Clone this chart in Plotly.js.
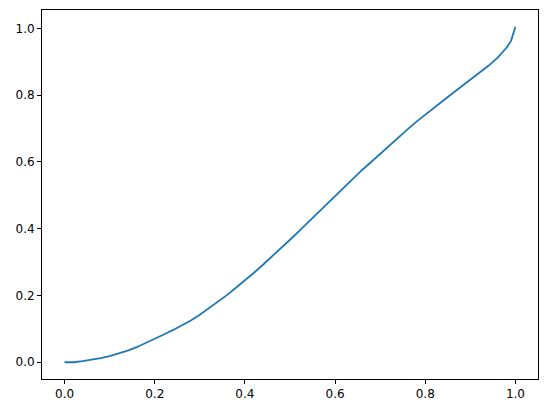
<!DOCTYPE html>
<html>
<head>
<meta charset="utf-8">
<script src="https://cdn.plot.ly/plotly-3.0.1.min.js"></script>
<style>
  html, body { margin: 0; padding: 0; background: #fff; }
  #plot { width: 547px; height: 413px; }
</style>
</head>
<body>
<div id="plot"></div>
<script>
// curve
var xs = [0, 0.02, 0.04, 0.06, 0.08, 0.1, 0.12, 0.14, 0.16, 0.18, 0.2, 0.22, 0.24, 0.26, 0.28,
          0.3, 0.32, 0.34, 0.36, 0.38, 0.4, 0.42, 0.44, 0.46, 0.48, 0.5, 0.52, 0.54, 0.56, 0.58,
          0.6, 0.62, 0.64, 0.66, 0.68, 0.7, 0.72, 0.74, 0.76, 0.78, 0.8, 0.82, 0.84, 0.86, 0.88,
          0.9, 0.92, 0.94, 0.96, 0.98, 0.99, 1.0];
var ys = [0, 0.0, 0.003, 0.007, 0.012, 0.018, 0.026, 0.035, 0.045, 0.057, 0.07, 0.083, 0.096, 0.11, 0.125,
          0.142, 0.161, 0.181, 0.201, 0.223, 0.245, 0.268, 0.292, 0.316, 0.341, 0.367, 0.393, 0.419, 0.446, 0.473,
          0.5, 0.526, 0.551, 0.576, 0.6, 0.625, 0.649, 0.673, 0.697, 0.72, 0.742, 0.763, 0.784, 0.805, 0.826,
          0.846, 0.866, 0.888, 0.912, 0.942, 0.962, 1.005];
var xTicks = [0, 0.2, 0.4, 0.6, 0.8, 1.0];
var yTicks = [0, 0.2, 0.4, 0.6, 0.8, 1.0];

var trace = {
  x: xs,
  y: ys,
  type: 'scatter',
  mode: 'lines',
  line: {color: '#1f77b4', width: 1.8},
  hoverinfo: 'skip'
};

var ax = {
  showline: true, mirror: true, linecolor: '#000', linewidth: 1,
  ticks: 'outside', ticklen: 4, tickwidth: 1, tickcolor: '#000',
  showgrid: false, zeroline: false,
  tickformat: '.1f',
  tickfont: {family: 'DejaVu Sans', size: 12, color: '#000'}
};

var layout = {
  width: 547, height: 413,
  margin: {l: 42, r: 9, t: 10, b: 34},
  paper_bgcolor: '#fff', plot_bgcolor: '#fff',
  showlegend: false,
  xaxis: Object.assign({}, ax, {range: [-0.05, 1.05], tickvals: xTicks}),
  yaxis: Object.assign({}, ax, {range: [-0.05025, 1.05525], tickvals: yTicks})
};

Plotly.newPlot('plot', [trace], layout, {staticPlot: true});
</script>
</body>
</html>
